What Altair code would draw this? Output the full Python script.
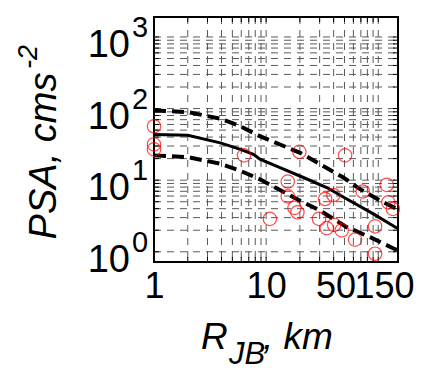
import altair as alt
import pandas as pd

# ---- data -------------------------------------------------------------
# median prediction and +/- one standard deviation bounds
med_dist = [1.0, 2.0, 3.9, 5.9, 7.7, 8.8, 13.3, 21.5, 34.7, 52.4, 90.4, 150]
med_psa = [43.4, 42.5, 33.2, 26.9, 23.0, 19.6, 15.0, 10.9, 7.9, 5.46, 3.38, 2.10]
up_dist = [1.0, 2.0, 3.9, 5.9, 8.8, 13.3, 20.1, 30.3, 48.9, 68.8, 104, 150]
up_psa = [94.3, 89.3, 72.3, 56.6, 41.1, 31.5, 24.1, 16.7, 10.9, 7.5, 5.17, 3.9]
lo_dist = [1.0, 2.0, 3.9, 5.9, 8.8, 13.3, 20.1, 30.3, 52.4, 84.5, 137, 150]
lo_psa = [22.2, 21.0, 17.0, 13.5, 10.3, 7.28, 5.17, 3.76, 2.21, 1.60, 1.11, 1.05]

# recorded observations
obs_dist = [1.0, 1.0, 1.0, 6.35, 19.8, 50.6, 15.6, 15.6, 10.8, 17.9, 19.0, 33.6,
            39.8, 29.6, 34.7, 40.4, 47.2, 62.1, 72.7, 119, 123, 135, 93.6, 93.6]
obs_psa = [56.6, 31.6, 26.9, 22.2, 24.9, 22.2, 9.57, 5.93, 2.88, 4.10, 3.56, 5.46,
           6.21, 2.88, 2.14, 2.38, 1.99, 1.48, 6.95, 8.61, 4.90, 3.97, 2.26, 0.94]

# axes
x_label_ticks = [1, 10, 50, 150]
x_grid = [2, 3, 4, 5, 6, 7, 8, 9, 10, 20, 30, 40, 50, 60, 70, 80, 90, 100]
y_grid = [1, 2, 3, 4, 5, 6, 7, 8, 9, 10, 20, 30, 40, 50, 60, 70, 80, 90,
          100, 200, 300, 400, 500, 600, 700, 800, 900, 1000]
y_label_ticks = [1, 10, 100, 1000]
y_label_base = ["10", "10", "10", "10"]
y_label_exp = ["0", "1", "2", "3"]

W, H = 244, 245
FONT = "Liberation Sans"

xs = alt.Scale(type="log", domain=[1, 150], nice=False)
ys = alt.Scale(type="log", domain=[0.72, 1900], nice=False)

curves = pd.concat([
    pd.DataFrame({"d": med_dist, "psa": med_psa, "s": "median"}),
    pd.DataFrame({"d": up_dist, "psa": up_psa, "s": "upper"}),
    pd.DataFrame({"d": lo_dist, "psa": lo_psa, "s": "lower"}),
])
obs = pd.DataFrame({"d": obs_dist, "psa": obs_psa})
xg = pd.DataFrame({"v": x_grid})
yg = pd.DataFrame({"v": y_grid})
ylab = pd.DataFrame({"v": y_label_ticks, "base": y_label_base, "exp": y_label_exp})

grid_style = dict(color="#5a5a5a", strokeWidth=1, strokeDash=[7, 6])

vgrid = alt.Chart(xg).mark_rule(**grid_style).encode(
    x=alt.X("v:Q", scale=xs,
            axis=alt.Axis(values=x_label_ticks, format="d", grid=False, ticks=False,
                          domain=False, title=None, labelFontSize=36, labelFont=FONT,
                          labelColor="black", labelPadding=7, labelFlush=False,
                          labelOverlap=False,
                          labelOffset={"condition": [
                              {"test": "datum.value == 50", "value": -9},
                              {"test": "datum.value == 150", "value": -14}],
                              "value": 0})),
    y=alt.value(0), y2=alt.value(H),
)
hgrid = alt.Chart(yg).mark_rule(**grid_style).encode(
    y=alt.Y("v:Q", scale=ys, axis=None),
    x=alt.value(0), x2=alt.value(W),
)

tick_style = dict(color="black", strokeWidth=1)
xt = pd.DataFrame({"v": x_grid})
bottom_ticks = alt.Chart(xt).mark_rule(**tick_style).encode(
    x=alt.X("v:Q", scale=xs), y=alt.value(H), y2=alt.value(H - 5))
top_ticks = alt.Chart(xt).mark_rule(**tick_style).encode(
    x=alt.X("v:Q", scale=xs), y=alt.value(0), y2=alt.value(5))
left_ticks = alt.Chart(yg).mark_rule(**tick_style).encode(
    y=alt.Y("v:Q", scale=ys), x=alt.value(0), x2=alt.value(5))
right_ticks = alt.Chart(yg).mark_rule(**tick_style).encode(
    y=alt.Y("v:Q", scale=ys), x=alt.value(W - 5), x2=alt.value(W))

median_line = alt.Chart(curves[curves.s == "median"]).mark_line(
    color="black", strokeWidth=3).encode(
    x=alt.X("d:Q", scale=xs), y=alt.Y("psa:Q", scale=ys))
bound_lines = alt.Chart(curves[curves.s != "median"]).mark_line(
    color="black", strokeWidth=4, strokeDash=[12, 6]).encode(
    x=alt.X("d:Q", scale=xs), y=alt.Y("psa:Q", scale=ys), detail="s:N")

points = alt.Chart(obs).mark_point(
    shape="circle", filled=False, color="#ff0000", size=180, strokeWidth=1.2).encode(
    x=alt.X("d:Q", scale=xs), y=alt.Y("psa:Q", scale=ys))

# y tick labels: base with a raised exponent
ylab_base = alt.Chart(ylab).mark_text(
    align="right", baseline="alphabetic", dy=20, fontSize=38, font=FONT,
    color="black").encode(y=alt.Y("v:Q", scale=ys), x=alt.value(-24), text="base:N")
ylab_exp = alt.Chart(ylab).mark_text(
    align="left", baseline="alphabetic", dy=0, fontSize=29, font=FONT,
    color="black").encode(y=alt.Y("v:Q", scale=ys), x=alt.value(-22), text="exp:N")

# axis titles
title_df = pd.DataFrame({"t": [0]})
def label(txt, x, y, size, angle=0, align="left"):
    kw = dict(text=txt, align=align, baseline="alphabetic", fontSize=size,
              font=FONT, fontStyle="italic", color="black")
    if angle:
        kw["angle"] = angle
    return alt.Chart(title_df).mark_text(**kw).encode(x=alt.value(x), y=alt.value(y))

y_title = label("PSA, cms", -98, 139, 38, angle=270, align="center")
y_title_exp = label("-2", -117, 52, 27, angle=270, align="left")
x_title_r = label("R", 47, 332, 37)
x_title_sub = label("JB", 75, 347, 31)
x_title_rest = label(", km", 109, 332, 37)

chart = alt.layer(
    vgrid, hgrid, bottom_ticks, top_ticks, left_ticks, right_ticks,
    bound_lines, median_line, points,
    ylab_base, ylab_exp, y_title, y_title_exp, x_title_r, x_title_sub, x_title_rest,
).properties(
    width=W, height=H,
    autosize=alt.AutoSizeParams(type="none"),
    padding={"left": 154, "top": 17, "right": 38, "bottom": 110},
    background="white",
).configure_view(stroke="black", strokeWidth=2)

chart.save("out.html", embed_options={"renderer": "svg", "actions": False})
